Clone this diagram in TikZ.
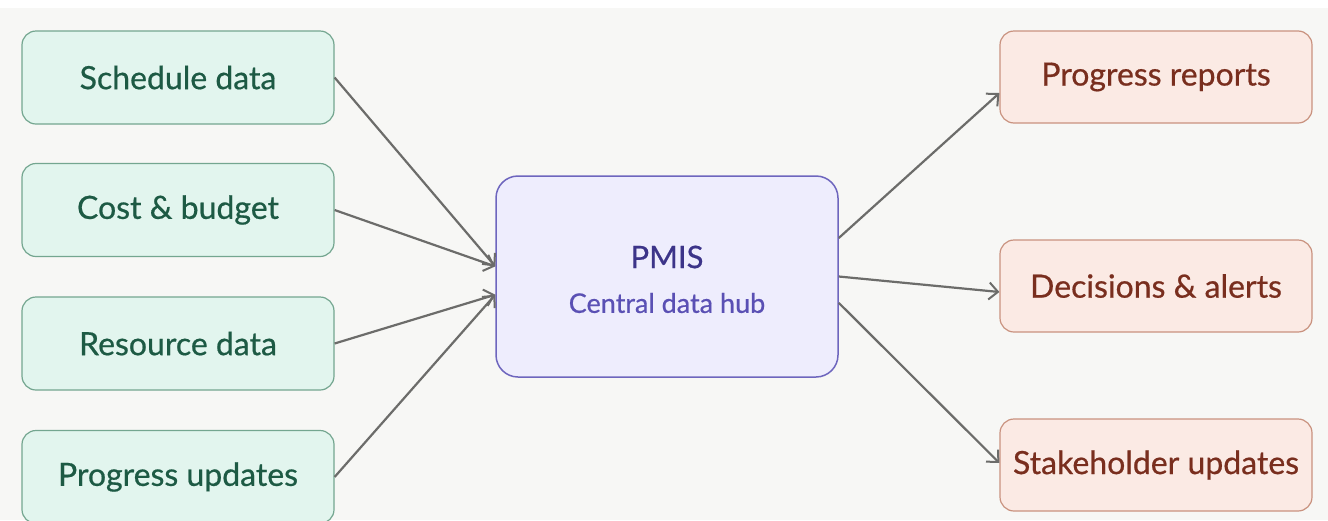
\documentclass[tikz,border=0pt]{standalone}
\usepackage{fontspec}
\setmainfont{Lato}[FakeBold=0.6]
\usetikzlibrary{arrows.meta,calc}
\definecolor{bgc}{HTML}{F7F7F5}
\definecolor{infill}{HTML}{E2F5EE}
\definecolor{indraw}{HTML}{74A690}
\definecolor{intext}{HTML}{1D5A44}
\definecolor{hubfill}{HTML}{EEEDFD}
\definecolor{hubdraw}{HTML}{6E66BE}
\definecolor{hubtext}{HTML}{3C3489}
\definecolor{hubsub}{HTML}{5A50B4}
\definecolor{outfill}{HTML}{FBEAE4}
\definecolor{outdraw}{HTML}{C9927F}
\definecolor{outtext}{HTML}{792E1E}
\definecolor{arrc}{HTML}{6C6C6A}
\tikzset{
  inbox/.style={draw=indraw, fill=infill, line width=1.2pt, rounded corners=14pt,
    minimum width=312pt, minimum height=93pt, inner sep=0pt,
    text=intext, font=\fontsize{32}{38}\selectfont},
  outbox/.style={draw=outdraw, fill=outfill, line width=1.2pt, rounded corners=14pt,
    minimum width=312pt, minimum height=92pt, inner sep=0pt,
    text=outtext, font=\fontsize{32}{38}\selectfont},
  hubbox/.style={draw=hubdraw, fill=hubfill, line width=1.5pt, rounded corners=22pt,
    minimum width=342pt, minimum height=201pt, inner sep=0pt},
  conn/.style={draw=arrc, line width=2.2pt, -{Straight Barb[length=9pt,width=17pt,line width=2pt]}}
}
\begin{document}
\begin{tikzpicture}[x=1pt,y=-1pt]
\useasboundingbox (0,0) rectangle (1328,520);
\fill[white] (0,0) rectangle (1328,520);
\fill[bgc] (0,8) rectangle (1328,520);
\node[inbox] (sd) at (178,77.5) {Schedule data};
\node[inbox] (cb) at (178,210) {Cost \& budget};
\node[inbox] (rd) at (178,343.5) {Resource data};
\node[inbox] (pu) at (178,477) {Progress updates};
\node[hubbox] (hub) at (667,276.5) {};
\node[text=hubtext, font=\fontsize{31}{36}\selectfont] (hubt) at (667,257) {PMIS};
\node[text=hubsub, font=\fontsize{27}{32}\selectfont] (hubs) at (667,303) {Central data hub};
\node[outbox] (pr) at (1156,77) {Progress reports};
\node[outbox] (da) at (1156,286) {Decisions \& alerts};
\node[outbox] (su) at (1156,465) {Stakeholder updates};
\coordinate (inA) at ($(hub.north west)!0.45!(hub.south west)$);
\coordinate (inB) at ($(hub.north west)!0.59!(hub.south west)$);
\coordinate (outA) at ($(hub.north east)!0.31!(hub.south east)$);
\coordinate (outB) at ($(hub.north east)!0.50!(hub.south east)$);
\coordinate (outC) at ($(hub.north east)!0.63!(hub.south east)$);
\draw[conn] (sd.east) -- (inA);
\draw[conn] (cb.east) -- (inA);
\draw[conn] (rd.east) -- (inB);
\draw[conn] (pu.east) -- (inB);
\draw[conn] (outA) -- ($(pr.west)+(0,16)$);
\draw[conn] (outB) -- ($(da.west)+(0,6)$);
\draw[conn] (outC) -- ($(su.west)+(0,-2)$);
\end{tikzpicture}
\end{document}
